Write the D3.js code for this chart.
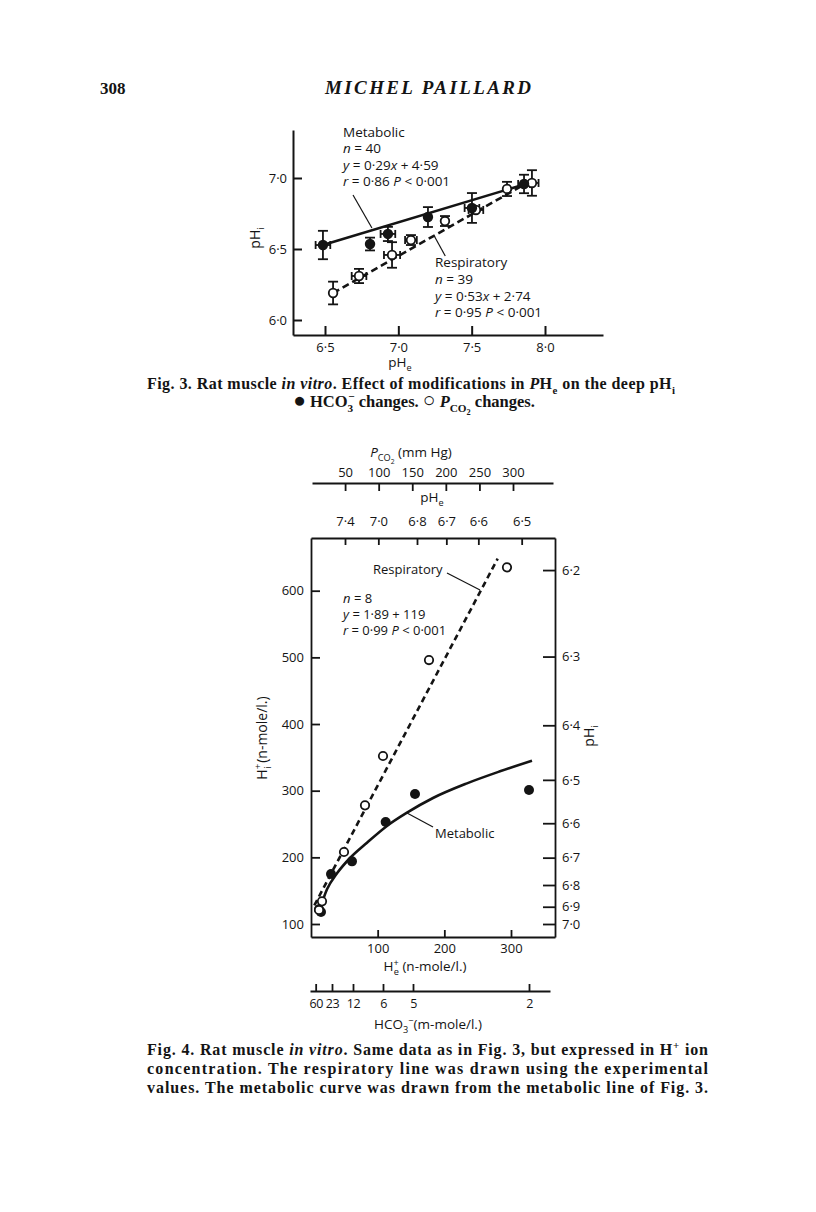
<!DOCTYPE html>
<html><head><meta charset="utf-8">
<script src="https://cdn.jsdelivr.net/npm/d3@7"></script>
<style>body{margin:0;background:#fff}</style>
</head><body>
<svg id="c" width="816" height="1212"></svg>
<script>
// ---------- Fig. 3 data (pHe vs pHi) ----------
const fig3MetPHe  = [6.486, 6.807, 6.929, 7.202, 7.502, 7.857];
const fig3MetPHi  = [6.528, 6.535, 6.606, 6.725, 6.789, 6.958];
const fig3MetErrY = [0.10, 0.045, 0.05, 0.07, 0.105, 0.065];
const fig3MetErrX = [0.05, 0, 0.05, 0, 0.05, 0.04];
const fig3ResPHe  = [6.555, 6.732, 6.957, 7.086, 7.318, 7.529, 7.741, 7.911];
const fig3ResPHi  = [6.190, 6.310, 6.458, 6.563, 6.697, 6.775, 6.923, 6.965];
const fig3ResErrY = [0.08, 0.05, 0.09, 0.035, 0.035, 0, 0.05, 0.09];
const fig3ResErrX = [0, 0.05, 0.055, 0.04, 0, 0.05, 0, 0.045];
const fig3MetLinePHe = [6.486, 7.870];
const fig3MetLinePHi = [6.528, 6.958];
const fig3ResLinePHe = [6.555, 7.877];
const fig3ResLinePHi = [6.190, 6.965];
const fig3XTicks = [6.5, 7.0, 7.5, 8.0];
const fig3YTicks = [6.0, 6.5, 7.0];

// ---------- Fig. 4 data (H+e vs H+i, n-mole/l.) ----------
const fig4ResHe = [294, 177, 108, 81, 49.5, 16.5, 12];
const fig4ResHi = [635, 496, 352, 278, 208, 134, 121];
const fig4MetHe = [327, 156, 112, 61.5, 30, 15, 12];
const fig4MetHi = [301, 295, 253, 194, 175, 118, 122];
const fig4ResLineHe = [5, 280];
const fig4ResLineHi = [128, 648];
const fig4MetCurveHe = [10.5, 24, 39, 58.5, 84, 112.5, 144, 183, 234, 283.5, 331.5];
const fig4MetCurveHi = [113, 152, 176, 199, 222, 246, 267, 289, 311, 329, 345];
const fig4HeTicks = [100, 200, 300];
const fig4HiTicks = [100, 200, 300, 400, 500, 600];
const fig4PHiTicks = [6.2, 6.3, 6.4, 6.5, 6.6, 6.7, 6.8, 6.9, 7.0];
const fig4PcoTicks = [50, 100, 150, 200, 250, 300];
const fig4PHeLabels = ["7·4", "7·0", "6·8", "6·7", "6·6", "6·5"];
const fig4PHeAtHe  = [51, 101, 159, 203, 251, 316];
const fig4HcoLabels = ["60", "23", "12", "6", "5", "2"];
const fig4HcoAtHe  = [7, 31.5, 63, 108, 153, 327];

const svg = d3.select('#c');
svg.append('rect').attr('width', 816).attr('height', 1212).attr('fill', '#fff');
const SANS = "'Open Sans', 'DejaVu Sans', sans-serif";
const SERIF = "'Liberation Serif', 'DejaVu Serif', serif";
const INK = '#141414';
const dot = v => d3.format('.1f')(v).replace('.', '·');

function rich(parent, x, y, parts, o = {}) {
  const size = o.size || 13;
  const t = parent.append('text').attr('x', x).attr('y', y)
    .attr('font-family', o.family || SANS).attr('font-size', size)
    .attr('fill', INK).attr('text-anchor', o.anchor || 'start');
  if (o.weight) t.attr('font-weight', o.weight);
  if (o.style) t.attr('font-style', o.style);
  if (o.transform) t.attr('transform', o.transform);
  if (o.len) t.attr('textLength', o.len).attr('lengthAdjust', 'spacing');
  let shift = 0;
  parts.forEach(p => {
    const [s, st = '', dx, fs] = Array.isArray(p) ? p : [p, ''];
    const f = st.split(' ');
    const ts = t.append('tspan').text(s);
    let target = 0;
    if (f.includes('sub')) target = size * 0.3;
    if (f.includes('sub2')) target = size * 0.5;
    if (f.includes('sup')) target = -size * 0.4;
    if (target !== shift) { ts.attr('dy', target - shift); shift = target; }
    if (f.includes('sub') || f.includes('sup')) ts.attr('font-size', size * 0.68);
    if (f.includes('sub2')) ts.attr('font-size', size * 0.5);
    if (f.includes('i')) ts.attr('font-style', 'italic');
    if (dx !== undefined && dx !== null) ts.attr('dx', dx);
    if (fs) ts.attr('font-size', fs);
  });
  return t;
}
function styleAxis(g, size, sw) {
  g.selectAll('text').attr('font-family', SANS).attr('font-size', size).attr('fill', INK);
  g.selectAll('path,line').attr('stroke', INK).attr('stroke-width', sw);
}

// ---------- header ----------
rich(svg, 100, 94, ['308'], {family: SERIF, size: 17, weight: 'bold'});
rich(svg, 428, 94, ['MICHEL PAILLARD'], {family: SERIF, size: 19, weight: 'bold', style: 'italic', anchor: 'middle', len: 206});

// ================= Fig. 3 =================
const x3 = d3.scaleLinear().domain([6.5, 8.0]).range([325, 545]);
const y3 = d3.scaleLinear().domain([6.0, 7.0]).range([320, 178]);
const x3ax = x3.copy().domain([x3.invert(293), x3.invert(603)]).range([293, 603]);
const y3ax = y3.copy().domain([y3.invert(335), y3.invert(130)]).range([335, 130]);
const g3 = svg.append('g');

const gx3 = g3.append('g').attr('transform', 'translate(0,335)')
  .call(d3.axisBottom(x3ax).tickValues(fig3XTicks).tickSizeInner(-9).tickSizeOuter(0).tickPadding(8).tickFormat(dot));
styleAxis(gx3, 13, 2);
const gy3 = g3.append('g').attr('transform', 'translate(293,0)')
  .call(d3.axisLeft(y3ax).tickValues(fig3YTicks).tickSizeInner(-9).tickSizeOuter(0).tickPadding(6).tickFormat(dot));
styleAxis(gy3, 13, 2);
gy3.selectAll('text').attr('dy', '0.36em');

rich(g3, 400, 367, ['pH', ['e', 'sub']], {anchor: 'middle', size: 13.5});
rich(g3, 0, 0, ['pH', ['i', 'sub']], {anchor: 'middle', size: 14, transform: 'translate(260,238) rotate(-90)'});

// lines
const line3 = d3.line().x(d => x3(d[0])).y(d => y3(d[1]));
g3.append('path').attr('d', line3(d3.zip(fig3MetLinePHe, fig3MetLinePHi)))
  .attr('stroke', INK).attr('stroke-width', 2.6).attr('fill', 'none');
g3.append('path').attr('d', line3(d3.zip(fig3ResLinePHe, fig3ResLinePHi)))
  .attr('stroke', INK).attr('stroke-width', 2.6).attr('fill', 'none').attr('stroke-dasharray', '7,4');

function errBars(g, xs, ys, ex, ey) {
  xs.forEach((xv, i) => {
    const cx = x3(xv), cy = y3(ys[i]);
    if (ey[i] > 0) {
      const t = y3(ys[i] + ey[i]), b = y3(ys[i] - ey[i]);
      g.append('line').attr('x1', cx).attr('x2', cx).attr('y1', t).attr('y2', b);
      g.append('line').attr('x1', cx - 5).attr('x2', cx + 5).attr('y1', t).attr('y2', t);
      g.append('line').attr('x1', cx - 5).attr('x2', cx + 5).attr('y1', b).attr('y2', b);
    }
    if (ex[i] > 0) {
      const l = x3(xv - ex[i]), r = x3(xv + ex[i]);
      g.append('line').attr('x1', l).attr('x2', r).attr('y1', cy).attr('y2', cy);
      g.append('line').attr('x1', l).attr('x2', l).attr('y1', cy - 4).attr('y2', cy + 4);
      g.append('line').attr('x1', r).attr('x2', r).attr('y1', cy - 4).attr('y2', cy + 4);
    }
  });
  g.selectAll('line').attr('stroke', INK).attr('stroke-width', 1.8);
}
errBars(g3.append('g'), fig3MetPHe, fig3MetPHi, fig3MetErrX, fig3MetErrY);
errBars(g3.append('g'), fig3ResPHe, fig3ResPHi, fig3ResErrX, fig3ResErrY);

g3.append('g').selectAll('circle').data(d3.zip(fig3ResPHe, fig3ResPHi)).join('circle')
  .attr('cx', d => x3(d[0])).attr('cy', d => y3(d[1])).attr('r', 4.3)
  .attr('fill', '#fff').attr('stroke', INK).attr('stroke-width', 1.8);
g3.append('g').selectAll('circle').data(d3.zip(fig3MetPHe, fig3MetPHi)).join('circle')
  .attr('cx', d => x3(d[0])).attr('cy', d => y3(d[1])).attr('r', 5.2).attr('fill', INK);

// annotations
const ann3 = [['Metabolic'], [['n', 'i'], ' = 40'], [['y', 'i'], ' = 0·29', ['x', 'i'], ' + 4·59'], [['r', 'i'], ' = 0·86 ', ['P', 'i'], ' < 0·001']];
[137, 153, 170, 186].forEach((yy, i) => rich(g3, 343, yy, ann3[i], {size: 13.5}));
const ann3b = [['Respiratory'], [['n', 'i'], ' = 39'], [['y', 'i'], ' = 0·53', ['x', 'i'], ' + 2·74'], [['r', 'i'], ' = 0·95 ', ['P', 'i'], ' < 0·001']];
[267, 284, 301, 317].forEach((yy, i) => rich(g3, 435, yy, ann3b[i], {size: 13.5}));
const lead3 = [[[6.691, 6.880], [6.820, 6.648]], [[7.245, 6.592], [7.320, 6.451]]];
lead3.forEach(l => g3.append('line')
  .attr('x1', x3(l[0][0])).attr('y1', y3(l[0][1])).attr('x2', x3(l[1][0])).attr('y2', y3(l[1][1]))
  .attr('stroke', INK).attr('stroke-width', 1.2));

// caption Fig 3
rich(svg, 147, 389, ['Fig. 3.  Rat muscle ', ['in vitro', 'i'], '. Effect of modifications in ', ['P', 'i'], 'H', ['e', 'sub'], ' on the deep pH', ['i', 'sub']],
  {family: SERIF, size: 16, weight: 'bold', len: 528});
rich(svg, 414, 407, [['●', '', null, 21], ' HCO', ['3', 'sub'], ['−', 'sup', -5], ' changes. ', ['○', '', null, 21], ' ', ['P', 'i'], ['CO', 'sub'], ['2', 'sub2'], ' changes.'],
  {family: SERIF, size: 16.5, weight: 'bold', anchor: 'middle'});

// ================= Fig. 4 =================
const xHe = d3.scaleLinear().domain([0, 300]).range([311, 511]);
const yHi = d3.scaleLinear().domain([100, 600]).range([924, 590.7]);
const L = 311, R = 555, T = 538, B = 937;
const xFrame = xHe.copy().domain([xHe.invert(L), xHe.invert(R)]).range([L, R]);
const yFrame = yHi.copy().domain([yHi.invert(B), yHi.invert(T)]).range([B, T]);
const g4 = svg.append('g');

const gl = g4.append('g').attr('transform', `translate(${L},0)`)
  .call(d3.axisLeft(yFrame).tickValues(fig4HiTicks).tickSizeInner(-9).tickSizeOuter(0).tickPadding(7).tickFormat(d3.format('d')));
styleAxis(gl, 13, 1.8);
const gr = g4.append('g').attr('transform', `translate(${R},0)`)
  .call(d3.axisRight(yFrame).tickValues(fig4PHiTicks.map(p => Math.pow(10, 9 - p))).tickSizeInner(-12).tickSizeOuter(0).tickPadding(7)
    .tickFormat((d, i) => dot(fig4PHiTicks[i])));
styleAxis(gr, 13, 1.8);
const gt = g4.append('g').attr('transform', `translate(0,${T})`)
  .call(d3.axisTop(xFrame).tickValues(fig4PHeAtHe).tickSizeInner(-7).tickSizeOuter(0).tickPadding(12)
    .tickFormat((d, i) => fig4PHeLabels[i]));
styleAxis(gt, 13, 1.8);
const gb = g4.append('g').attr('transform', `translate(0,${B})`)
  .call(d3.axisBottom(xFrame).tickValues(fig4HeTicks).tickSizeInner(-7).tickSizeOuter(0).tickPadding(7).tickFormat(d3.format('d')));
styleAxis(gb, 13, 1.8);

// Pco2 axis
const xPco = d3.scaleLinear().domain([0, 300]).range([311.5, 513]);
const xPcoAx = xPco.copy().domain([xPco.invert(312), xPco.invert(553)]).range([312, 553]);
const gp = g4.append('g').attr('transform', 'translate(0,483)')
  .call(d3.axisTop(xPcoAx).tickValues(fig4PcoTicks).tickSizeInner(-8).tickSizeOuter(0).tickPadding(6).tickFormat(d3.format('d')));
styleAxis(gp, 13, 1.8);
// HCO3 axis
const xHco = xHe.copy().domain([xHe.invert(310), xHe.invert(550)]).range([310, 550]);
const gh = g4.append('g').attr('transform', 'translate(0,991)')
  .call(d3.axisBottom(xHco).tickValues(fig4HcoAtHe).tickSizeInner(-7).tickSizeOuter(0).tickPadding(8)
    .tickFormat((d, i) => fig4HcoLabels[i]));
styleAxis(gh, 12.5, 1.8);
gh.selectAll('text').attr('letter-spacing', -0.4);

// axis titles
rich(g4, 411, 457, [['P', 'i'], ['CO', 'sub'], ['2', 'sub2'], ' (mm Hg)'], {anchor: 'middle', size: 13.5});
rich(g4, 432, 502, ['pH', ['e', 'sub']], {anchor: 'middle', size: 13.5});
rich(g4, 425, 971, ['H', ['+', 'sup'], ['e', 'sub', -5], ' (n-mole/l.)'], {anchor: 'middle', size: 13.5});
rich(g4, 428, 1029, ['HCO', ['3', 'sub'], ['−', 'sup'], '(m-mole/l.)'], {anchor: 'middle', size: 13.5});
rich(g4, 0, 0, ['H', ['+', 'sup'], ['i', 'sub', -5], ' (n-mole/l.)'], {anchor: 'middle', size: 14, transform: 'translate(267,738) rotate(-90)'});
rich(g4, 0, 0, ['pH', ['i', 'sub']], {anchor: 'middle', size: 14, transform: 'translate(594,736) rotate(-90)'});

// lines
const line4 = d3.line().x(d => xHe(d[0])).y(d => yHi(d[1]));
g4.append('path').attr('d', line4(d3.zip(fig4ResLineHe, fig4ResLineHi)))
  .attr('stroke', INK).attr('stroke-width', 2.6).attr('fill', 'none').attr('stroke-dasharray', '6,4');
g4.append('path').attr('d', line4.curve(d3.curveMonotoneX)(d3.zip(fig4MetCurveHe, fig4MetCurveHi)))
  .attr('stroke', INK).attr('stroke-width', 2.6).attr('fill', 'none');

g4.append('g').selectAll('circle').data(d3.zip(fig4MetHe, fig4MetHi)).join('circle')
  .attr('cx', d => xHe(d[0])).attr('cy', d => yHi(d[1])).attr('r', 5).attr('fill', INK);
g4.append('g').selectAll('circle').data(d3.zip(fig4ResHe, fig4ResHi)).join('circle')
  .attr('cx', d => xHe(d[0])).attr('cy', d => yHi(d[1])).attr('r', 4.2)
  .attr('fill', '#fff').attr('stroke', INK).attr('stroke-width', 1.8);

// annotations
rich(g4, 373, 574, ['Respiratory'], {size: 13});
const ann4 = [[['n', 'i'], ' = 8'], [['y', 'i'], ' = 1·89 + 119'], [['r', 'i'], ' = 0·99 ', ['P', 'i'], ' < 0·001']];
[603, 619, 635].forEach((yy, i) => rich(g4, 343, yy, ann4[i], {size: 13}));
rich(g4, 435, 838, ['Metabolic'], {size: 13});
const lead4 = [[[204, 626.5], [253.5, 601]], [[183, 245.5], [144, 266.5]]];
lead4.forEach(l => g4.append('line')
  .attr('x1', xHe(l[0][0])).attr('y1', yHi(l[0][1])).attr('x2', xHe(l[1][0])).attr('y2', yHi(l[1][1]))
  .attr('stroke', INK).attr('stroke-width', 1.2));

// caption Fig 4
rich(svg, 147, 1055, ['Fig. 4.  Rat muscle ', ['in vitro', 'i'], '. Same data as in Fig. 3, but expressed in H', ['+', 'sup'], ' ion'],
  {family: SERIF, size: 16, weight: 'bold', len: 561});
rich(svg, 147, 1074, ['concentration. The respiratory line was drawn using the experimental'],
  {family: SERIF, size: 16, weight: 'bold', len: 561});
rich(svg, 147, 1093, ['values. The metabolic curve was drawn from the metabolic line of Fig. 3.'],
  {family: SERIF, size: 16, weight: 'bold', len: 561});
</script>
</body></html>
